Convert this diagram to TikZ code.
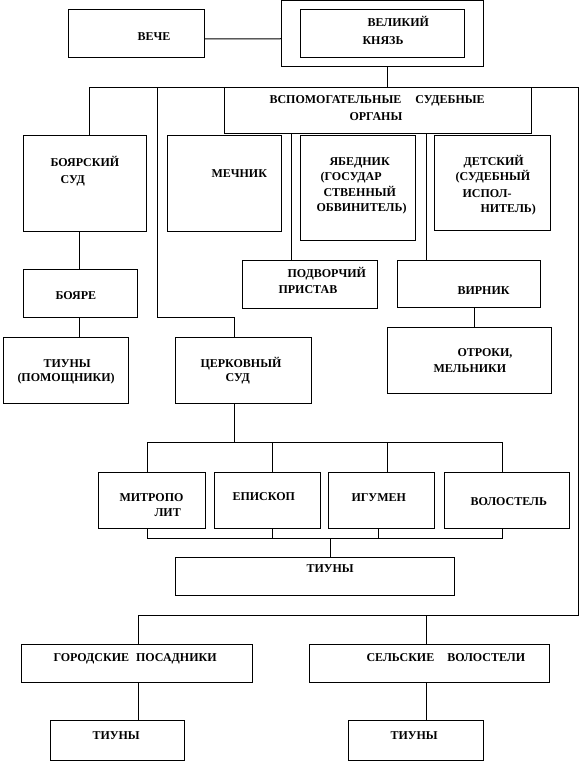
\documentclass[tikz,border=0pt]{standalone}
\usepackage{fontspec}
\setmainfont{Liberation Serif}
\newcommand\mybox[5]{\node[box,minimum width={#4pt-#2pt},minimum height={#5pt-#3pt}] (#1) at (#2,#3) {};}
\newcommand\mytxt[4]{\node[txt] (#1) at (#2,#3) {#4};}
\begin{document}
\begin{tikzpicture}[x=1pt,y=-1pt,line width=1pt,
  box/.style={draw,rectangle,inner sep=0pt,outer sep=0pt,anchor=north west},
  txt/.style={font=\fontsize{12}{14}\selectfont\bfseries,inner sep=0pt,anchor=base west}]
\useasboundingbox (0,0) rectangle (580,762);
% boxes
\mybox{veche}{68}{10}{204}{58}
\mybox{princeo}{281}{0.5}{483}{67}
\mybox{princei}{300}{10}{464}{58}
\mybox{vsp}{224}{88}{531}{134}
\mybox{boyarsud}{23}{136}{146}{231}
\mybox{mechnik}{167}{136}{281}{231}
\mybox{yabed}{300}{136}{415}{240}
\mybox{detsk}{434}{136}{550}{230}
\mybox{podv}{242}{260}{377}{308}
\mybox{virnik}{397}{260}{540}{307}
\mybox{boyare}{23}{269}{137}{317}
\mybox{otroki}{387}{327}{551}{393}
\mybox{tiunyp}{3}{337}{128}{403}
\mybox{tserk}{175}{337}{311}{403}
\mybox{mitr}{98}{472}{205}{528}
\mybox{episk}{214}{472}{320}{528}
\mybox{igumen}{328}{472}{434}{528}
\mybox{volost}{444}{472}{569}{528}
\mybox{tiunyc}{175}{557}{454}{595}
\mybox{gorod}{21}{644}{252}{682}
\mybox{selsk}{309}{644}{549}{682}
\mybox{tiunyl}{50}{720}{184}{760}
\mybox{tiunyr}{348}{720}{483}{760}
% coordinates
\coordinate (jA) at (89,88);
\coordinate (jB) at (157,88);
\coordinate (jK) at (387,88);
\coordinate (jE) at (578,88);
\coordinate (tc) at (234,317);
\coordinate (x291) at (291,0);
\coordinate (x426) at (426,0);
\coordinate (x79) at (79,0);
\coordinate (x474) at (474,0);
\coordinate (cb) at (234,442);
\coordinate (cbl) at (147,442);
\coordinate (cbr) at (502,442);
\coordinate (x272) at (272,442);
\coordinate (x387) at (387,442);
\coordinate (lbl) at (147,538);
\coordinate (lbr) at (502,538);
\coordinate (x272b) at (272,538);
\coordinate (x378) at (378,538);
\coordinate (x330) at (330,538);
\coordinate (b4l) at (138,615);
\coordinate (b4m) at (426,615);
\coordinate (b4r) at (578,615);
% connectors
\draw ([yshift=-5pt]veche.east) -- ([yshift=-5pt]princeo.west);
\draw (princeo.south -| jK) -- (jK);
\draw (jA |- boyarsud.north) -- (jA) -- (jE) -- (b4r) -- (b4l) -- (gorod.north -| b4l);
\draw (jB) -- (jB |- tc) -- (tc) -- (tserk.north -| tc);
\draw (vsp.south -| x291) -- (podv.north -| x291);
\draw (vsp.south -| x426) -- (virnik.north -| x426);
\draw (boyarsud.south -| x79) -- (boyare.north -| x79);
\draw (boyare.south -| x79) -- (tiunyp.north -| x79);
\draw (virnik.south -| x474) -- (otroki.north -| x474);
\draw (tserk.south -| cb) -- (cb);
\draw (mitr.north -| cbl) -- (cbl) -- (cbr) -- (volost.north -| cbr);
\draw (x272) -- (episk.north -| x272);
\draw (x387) -- (igumen.north -| x387);
\draw (mitr.south -| lbl) -- (lbl) -- (lbr) -- (volost.south -| lbr);
\draw (episk.south -| x272b) -- (x272b);
\draw (igumen.south -| x378) -- (x378);
\draw (x330) -- (tiunyc.north -| x330);
\draw (b4m) -- (selsk.north -| b4m);
\draw (gorod.south -| b4l) -- (tiunyl.north -| b4l);
\draw (selsk.south -| b4m) -- (tiunyr.north -| b4m);
% texts
\mytxt{t1}{137}{41}{ВЕЧЕ}
\mytxt{t2}{367}{27}{ВЕЛИКИЙ}
\mytxt{t3}{362}{45}{КНЯЗЬ}
\mytxt{t4}{269}{104}{ВСПОМОГАТЕЛЬНЫЕ\hspace{14pt}СУДЕБНЫЕ}
\mytxt{t5}{349}{121}{ОРГАНЫ}
\mytxt{t6}{50}{167}{БОЯРСКИЙ}
\mytxt{t7}{60}{183}{СУД}
\mytxt{t8}{211}{177}{МЕЧНИК}
\mytxt{t9}{329}{166}{ЯБЕДНИК}
\mytxt{t10}{320}{181}{(ГОСУДАР}
\mytxt{t11}{323}{196}{СТВЕННЫЙ}
\mytxt{t12}{316}{211}{ОБВИНИТЕЛЬ)}
\mytxt{t13}{463}{166}{ДЕТСКИЙ}
\mytxt{t14}{455}{181}{(СУДЕБНЫЙ}
\mytxt{t15}{462}{197}{ИСПОЛ-}
\mytxt{t16}{480}{212}{НИТЕЛЬ)}
\mytxt{t17}{287}{277}{ПОДВОРЧИЙ}
\mytxt{t18}{278}{293}{ПРИСТАВ}
\mytxt{t19}{457}{294}{ВИРНИК}
\mytxt{t20}{55}{299}{БОЯРЕ}
\mytxt{t21}{43}{367}{ТИУНЫ}
\mytxt{t22}{17}{381}{(ПОМОЩНИКИ)}
\mytxt{t23}{200}{367}{ЦЕРКОВНЫЙ}
\mytxt{t24}{225}{381}{СУД}
\mytxt{t25}{457}{356}{ОТРОКИ,}
\mytxt{t26}{433}{372}{МЕЛЬНИКИ}
\mytxt{t27}{119}{501}{МИТРОПО}
\mytxt{t28}{154}{516}{ЛИТ}
\mytxt{t29}{232}{500}{ЕПИСКОП}
\mytxt{t30}{351}{501}{ИГУМЕН}
\mytxt{t31}{470}{505}{ВОЛОСТЕЛЬ}
\mytxt{t32}{306}{572}{ТИУНЫ}
\mytxt{t33}{53}{661}{ГОРОДСКИЕ\hspace{7pt}ПОСАДНИКИ}
\mytxt{t34}{366}{661}{СЕЛЬСКИЕ\hspace{13pt}ВОЛОСТЕЛИ}
\mytxt{t35}{92}{739}{ТИУНЫ}
\mytxt{t36}{390}{739}{ТИУНЫ}
\end{tikzpicture}
\end{document}
